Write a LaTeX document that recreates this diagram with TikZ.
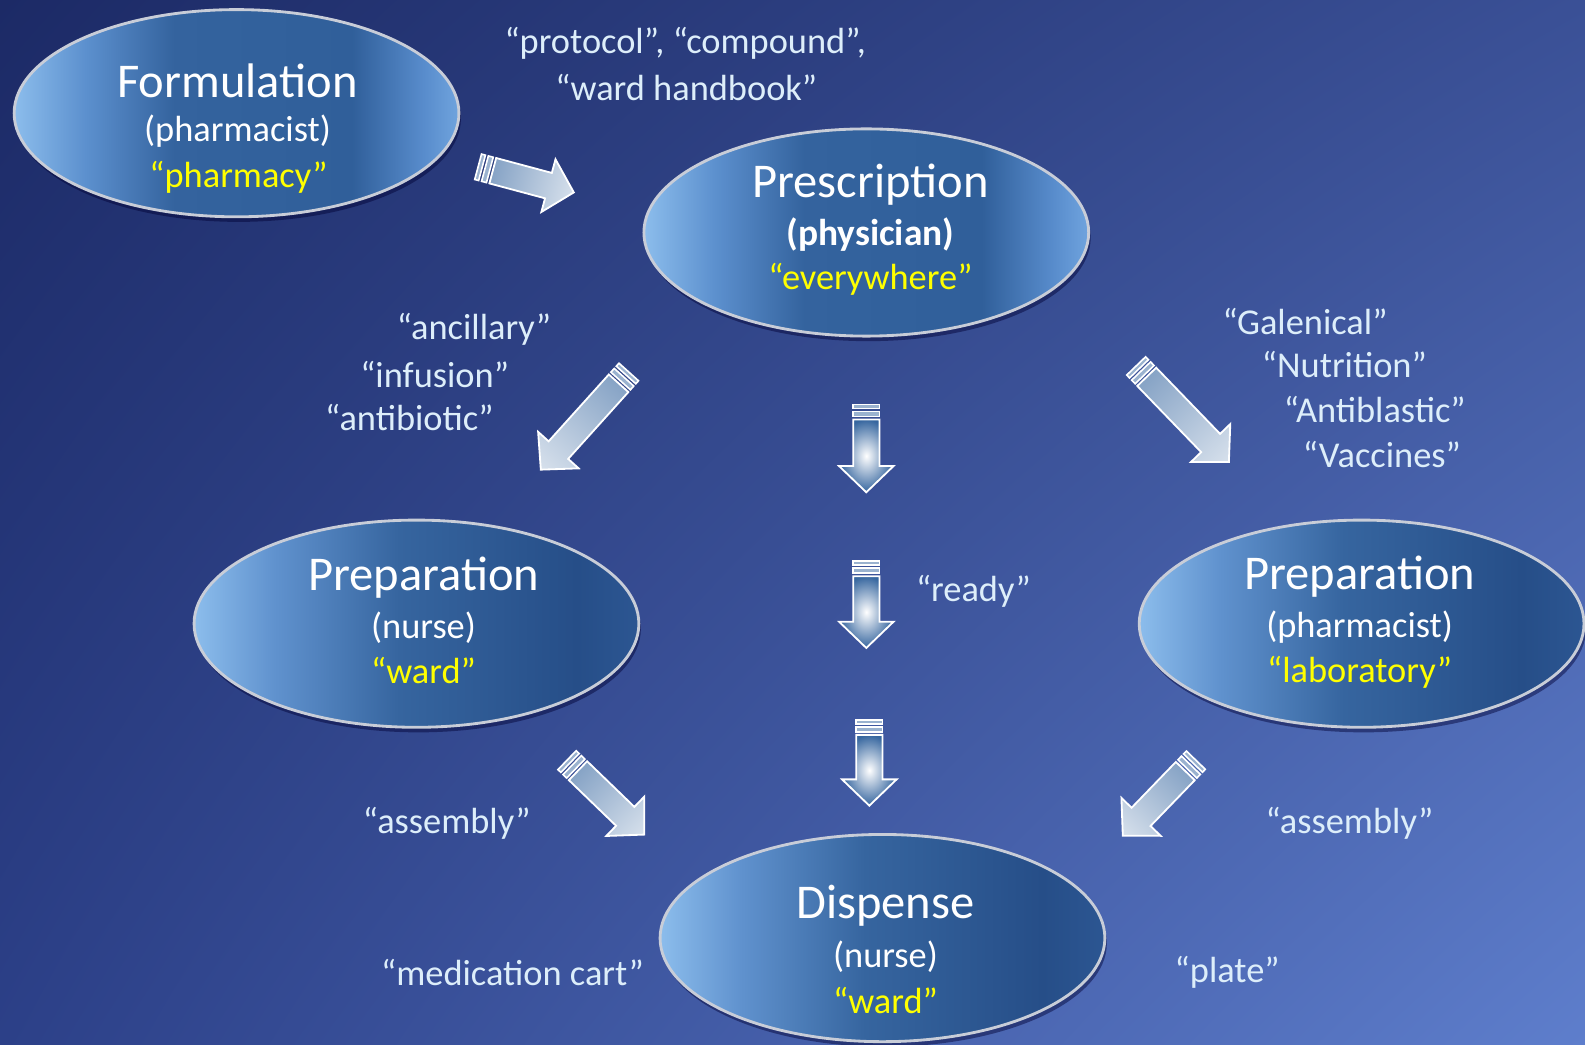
\documentclass[tikz,border=0pt]{standalone}
\usepackage{fontspec}
\setmainfont{Carlito}
\usetikzlibrary{shapes.geometric,shadows,shadings}
\definecolor{lbl}{HTML}{DDEEFA}
\definecolor{yel}{HTML}{FFFF00}
\definecolor{rim}{HTML}{C8CDD8}
\definecolor{blA}{HTML}{8CBDEC}
\definecolor{blB}{HTML}{36669F}
\definecolor{bgUL}{RGB}{28,42,102}
\definecolor{bgUR}{RGB}{58,80,150}
\definecolor{bgLL}{RGB}{44,64,136}
\definecolor{bgLR}{RGB}{94,126,204}
\pgfdeclarehorizontalshading{ellA}{100bp}{color(0bp)=(blA); color(25bp)=(blA);
  color(33bp)=(rgb,255:red,92;green,144;blue,206); color(43bp)=(rgb,255:red,52;green,99;blue,158);
  color(63bp)=(rgb,255:red,48;green,95;blue,154); color(71bp)=(rgb,255:red,88;green,140;blue,204);
  color(75bp)=(rgb,255:red,112;green,164;blue,222); color(100bp)=(rgb,255:red,112;green,164;blue,222)}
\pgfdeclarehorizontalshading{ellB}{100bp}{color(0bp)=(blA); color(25bp)=(blA);
  color(34bp)=(rgb,255:red,96;green,146;blue,206); color(48bp)=(rgb,255:red,54;green,101;blue,159);
  color(68bp)=(rgb,255:red,38;green,78;blue,136); color(75bp)=(rgb,255:red,44;green,86;blue,146);
  color(100bp)=(rgb,255:red,44;green,86;blue,146)}
\tikzset{
  bubble/.style={ellipse, minimum width=440pt, minimum height=205pt, inner sep=0pt,
    draw=rim, line width=2.8pt, shading=ellA,
    drop shadow={shadow xshift=2pt, shadow yshift=-5pt, opacity=.45, fill=black!80!blue}},
  bubbledark/.style={bubble, shading=ellB},
  title/.style={font=\fontsize{48}{56}\selectfont, text=white, inner sep=0pt},
  sub/.style={font=\fontsize{36}{42}\selectfont, text=white, inner sep=0pt},
  place/.style={font=\fontsize{36}{42}\selectfont, text=yel, inner sep=0pt},
  lab/.style={font=\fontsize{36}{42}\selectfont, text=lbl, inner sep=0pt},
  arrowbody/.style={draw=white, line width=1.8pt, line join=miter, left color=blB!60!white, middle color=blB, right color=blB!20!white},
  vbody/.style={draw=white, line width=1.8pt, line join=miter, inner color=white, outer color=blB},
  arrowstripe/.style={draw=white, line width=1.6pt, fill=blB!50!white},
}
\newcommand\blockarr[5]{% x, y, angle, length, body style
  \begin{scope}[transform canvas={shift={(#1,#2)},rotate=#3}]
    \path[#5] (15,-13) -- (#4-26,-13) -- (#4-26,-27) -- (#4,0) -- (#4-26,27) -- (#4-26,13) -- (15,13) -- cycle;
    \path[arrowstripe] (0,-13) rectangle (4,13);
    \path[arrowstripe] (7,-13) rectangle (12,13);
  \end{scope}}
\begin{document}
\begin{tikzpicture}[x=1pt,y=-1pt]
\useasboundingbox (0,0) rectangle (1568,1033);
\shade[upper left=bgUL, upper right=bgUR, lower left=bgLL, lower right=bgLR]
  (0,0) rectangle (1568,1033);

% ellipses
\node[bubble] (form) at (234,112) {};
\node[bubble] (presc) at (857,230) {};
\node[bubbledark] (prepn) at (412,617) {};
\node[bubbledark] (prepp) at (1347,617) {};
\node[bubbledark] (disp) at (873,928) {};

% ellipse texts
\node[title] (formT) at (235,80) {Formulation};
\node[sub] (formS) at (235,130) {(pharmacist)};
\node[place] (formP) at (236,175) {“pharmacy”};

\node[title] (prescT) at (861,183) {Prescription};
\node[sub, font=\fontsize{37}{42}\selectfont\bfseries] (prescS) at (861,232) {(physician)};
\node[place] (prescP) at (861,276) {“everywhere”};

\node[title] (prepnT) at (419,571) {Preparation};
\node[sub] (prepnS) at (419,621) {(nurse)};
\node[place] (prepnP) at (419,663) {“ward”};

\node[title] (preppT) at (1345,570) {Preparation};
\node[sub] (preppS) at (1345,620) {(pharmacist)};
\node[place] (preppP) at (1345,665) {“laboratory”};

\node[title] (dispT) at (876,896) {Dispense};
\node[sub] (dispS) at (876,946) {(nurse)};
\node[place] (dispP) at (876,990) {“ward”};

% labels
\node[lab] (l1) at (678,43) {“protocol”, “compound”,};
\node[lab] (l2) at (679,87) {“ward handbook”};
\node[lab] (l3) at (469,326) {“ancillary”};
\node[lab] (l4) at (430,370) {“infusion”};
\node[lab] (l5) at (405,413) {“antibiotic”};
\node[lab] (l6) at (1291,318) {“Galenical”};
\node[lab] (l7) at (1330,361) {“Nutrition”};
\node[lab] (l8) at (1360,405) {“Antiblastic”};
\node[lab] (l9) at (1367,450) {“Vaccines”};
\node[lab] (l10) at (963,585) {“ready”};
\node[lab] (l11) at (442,814) {“assembly”};
\node[lab] (l12) at (1335,814) {“assembly”};
\node[lab] (l13) at (507,962) {“medication cart”};
\node[lab] (l14) at (1214,962) {“plate”};

% block arrows
\blockarr{473}{165}{-15}{98}{arrowbody}
\blockarr{622}{368}{-132}{130}{arrowbody}
\blockarr{1124}{362}{-46}{132}{arrowbody}
\blockarr{857}{400}{-90}{87}{vbody}
\blockarr{857}{555}{-90}{86}{vbody}
\blockarr{860}{712}{-90}{85}{vbody}
\blockarr{561}{752}{-44}{106}{arrowbody}
\blockarr{1183}{752}{-134}{104}{arrowbody}
\end{tikzpicture}
\end{document}
